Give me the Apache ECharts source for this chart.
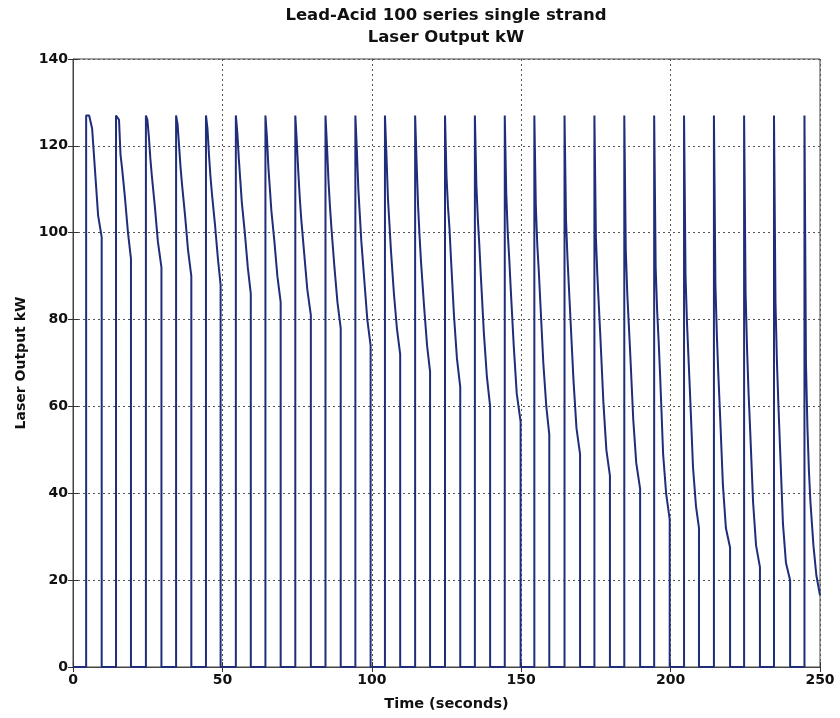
<!DOCTYPE html>
<html>
<head>
<meta charset="utf-8">
<script src="https://cdn.jsdelivr.net/npm/echarts@6/dist/echarts.min.js"></script>
<style>
html,body{margin:0;padding:0;background:#fff;}
#chart{width:840px;height:718px;}
</style>
</head>
<body>
<div id="chart"></div>
<script>
// Pulse timing (seconds)
const riseTimes = [4.4, 14.4, 24.4, 34.5, 44.5, 54.5, 64.4, 74.4, 84.5, 94.5, 104.4, 114.5, 124.5,
                   134.5, 144.5, 154.4, 164.5, 174.5, 184.5, 194.5, 204.5, 214.5, 224.6, 234.6, 244.8];
const fallTimes = [9.6, 19.4, 29.6, 39.6, 49.4, 59.5, 69.5, 79.6, 89.6, 99.6, 109.5, 119.5, 129.6,
                   139.6, 149.8, 159.4, 169.7, 179.7, 189.8, 199.7, 209.5, 219.9, 229.9, 240.0, 250];
// Seconds after each rise at which the decay levels below are read
const decayOffsets = [0, 0.5, 1, 1.5, 2, 3, 4];
// Laser output (kW) during each pulse at the offsets above
const pulseLevels = [
  [127,127,127,127,124,114,104],
  [127,127,126,118,115,108,100],
  [127,126,122,117,113,106,98],
  [127,125,120,115,111,104,96],
  [127,124,118,113,109,102,94],
  [127,123,117,112,107,100,92],
  [127,122,115,110,105,98,90],
  [127,121,114,108,103,95,87],
  [127,120,112,106,101,92,84],
  [127,119,110,104,98,89,80],
  [127,118,108,102,96,86,78],
  [127,116,106,99,93,83,74],
  [127,113,106,101,94,81,71],
  [127,111,103,97,90,77,67],
  [127,109,100,94,87,74,63],
  [127,106,97,91,84,70,60],
  [127,103,94,87,80,66,55],
  [127,99,90,83,76,61,50],
  [127,96,86,79,72,57,47],
  [127,92,82,75,67,49,40],
  [127,90,79,71,63,46,37],
  [127,88,76,67,59,42,32],
  [127,86,73,63,55,38,28],
  [127,84,70,60,51,33,24],
  [127,70,55,45,38,28,21]
];
// Output level just before each pulse switches off
const endLevels = [99, 94, 92, 90, 88, 86, 84, 81, 78, 74, 72, 68, 64.5, 60, 56.5, 53.5, 49, 44, 41, 34, 32, 27.5, 23, 20, 16.5];
const xTicks = [0, 50, 100, 150, 200, 250];
const yTicks = [0, 20, 40, 60, 80, 100, 120, 140];

const data = [[0, 0]];
for (let k = 0; k < riseTimes.length; k++) {
  const t0 = riseTimes[k];
  data.push([t0, 0]);
  decayOffsets.forEach((o, i) => data.push([t0 + o, pulseLevels[k][i]]));
  data.push([fallTimes[k], endLevels[k]]);
  if (fallTimes[k] < 250) data.push([fallTimes[k], 0]);
}

const font = '"DejaVu Sans", "Liberation Sans", Arial, sans-serif';
const tickStyle = {inside: true, length: 5, lineStyle: {color: '#333', width: 1}};
const gridDots = {show: true, lineStyle: {color: '#555', type: [2, 3], width: 1}};

const chart = echarts.init(document.getElementById('chart'), null, {renderer: 'canvas'});
chart.setOption({
  animation: false,
  backgroundColor: '#fff',
  title: {
    text: 'Lead-Acid 100 series single strand\nLaser Output kW',
    left: 446, top: 5, padding: 0, textAlign: 'center',
    textStyle: {fontFamily: font, fontWeight: 'bold', fontSize: 16.5, color: '#111', lineHeight: 22}
  },
  grid: {left: 73, right: 20, top: 59, bottom: 51, show: true, borderColor: '#444', borderWidth: 1, containLabel: false},
  xAxis: [{
    type: 'value', min: 0, max: 250, interval: 50,
    name: 'Time (seconds)', nameLocation: 'middle', nameGap: 30,
    nameTextStyle: {fontFamily: font, fontWeight: 'bold', fontSize: 14.5, color: '#111'},
    axisLine: {show: true, lineStyle: {color: '#444'}},
    axisTick: tickStyle,
    axisLabel: {fontFamily: font, fontWeight: 'bold', fontSize: 14, color: '#111', margin: 6,
      formatter: v => xTicks.includes(v) ? String(v) : ''},
    splitLine: gridDots
  }, {
    type: 'value', min: 0, max: 250, interval: 50, position: 'top',
    axisLine: {show: false}, axisTick: tickStyle, axisLabel: {show: false}, splitLine: {show: false}
  }],
  yAxis: [{
    type: 'value', min: 0, max: 140, interval: 20,
    name: 'Laser Output kW', nameLocation: 'middle', nameGap: 45, nameRotate: 90,
    nameTextStyle: {fontFamily: font, fontWeight: 'bold', fontSize: 14, color: '#111'},
    axisLine: {show: true, lineStyle: {color: '#444'}},
    axisTick: tickStyle,
    axisLabel: {fontFamily: font, fontWeight: 'bold', fontSize: 14, color: '#111', margin: 5,
      formatter: v => yTicks.includes(v) ? String(v) : ''},
    splitLine: gridDots
  }, {
    type: 'value', min: 0, max: 140, interval: 20, position: 'right',
    axisLine: {show: false}, axisTick: tickStyle, axisLabel: {show: false}, splitLine: {show: false}
  }],
  series: [{
    type: 'line', data: data, xAxisIndex: 0, yAxisIndex: 0,
    showSymbol: false, symbol: 'none',
    lineStyle: {color: '#1f2d7b', width: 2},
    z: 3
  }]
});
</script>
</body>
</html>
